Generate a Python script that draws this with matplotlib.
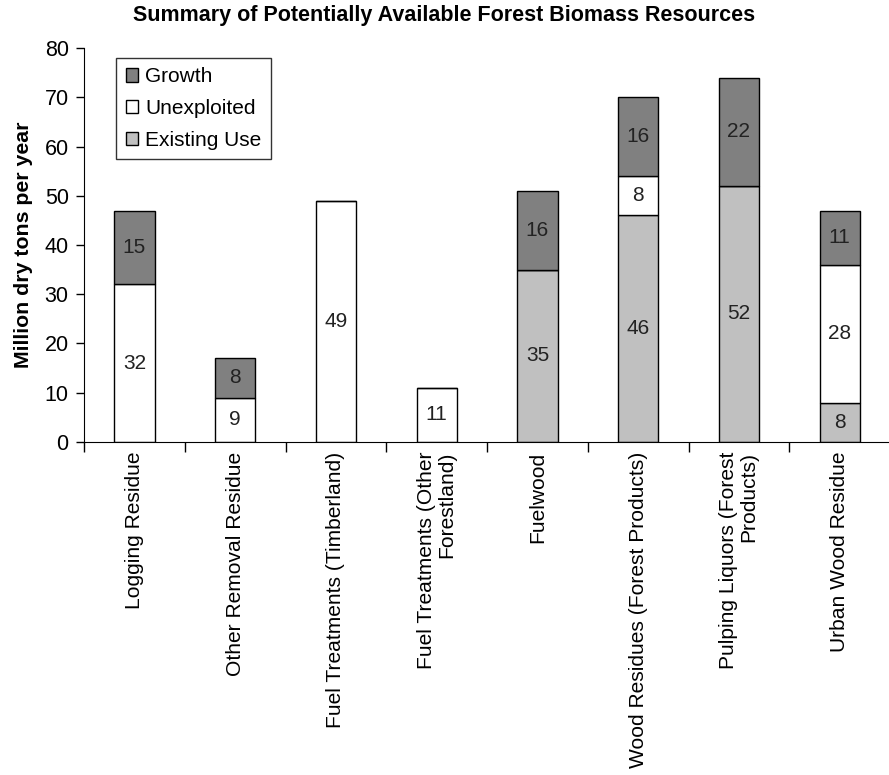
import numpy as np
import matplotlib
matplotlib.use("Agg")
import matplotlib.pyplot as plt

plt.rcParams['font.family'] = ['Liberation Sans', 'DejaVu Sans']

categories = ["Logging Residue", "Other Removal Residue", "Fuel Treatments (Timberland)",
              "Fuel Treatments (Other\nForestland)", "Fuelwood",
              "Wood Residues (Forest Products)", "Pulping Liquors (Forest\nProducts)",
              "Urban Wood Residue"]
existing_use = [0, 0, 0, 0, 35, 46, 52, 8]
unexploited = [32, 9, 49, 11, 0, 8, 0, 28]
growth = [15, 8, 0, 0, 16, 16, 22, 11]

fig = plt.figure(figsize=(8.89, 7.75), dpi=100)
ax = fig.add_axes([0.0945, 0.4297, 0.9067, 0.5083])

x = np.arange(len(categories))
w = 0.4
ex = np.array(existing_use)
un = np.array(unexploited)
gr = np.array(growth)

b1 = ax.bar(x, ex, w, color="#c0c0c0", edgecolor="black", linewidth=1, label="Existing Use")
b2 = ax.bar(x, un, w, bottom=ex, color="white", edgecolor="black", linewidth=1, label="Unexploited")
b3 = ax.bar(x, gr, w, bottom=ex + un, color="#808080", edgecolor="black", linewidth=1, label="Growth")

# value labels in middle of each segment
for vals, bots in [(ex, np.zeros_like(ex)), (un, ex), (gr, ex + un)]:
    for i in range(len(x)):
        if vals[i] > 0:
            ax.text(x[i], bots[i] + vals[i] / 2, str(vals[i]), ha="center", va="center",
                    fontsize=15, color="#222222")

ax.set_xlim(-0.5, len(categories) - 0.5)
ax.set_ylim(0, 80)
ax.set_yticks(range(0, 81, 10))
ax.tick_params(axis="y", labelsize=15.5, length=6, width=1, direction="out", pad=5)

ax.set_xticks(np.arange(-0.5, len(categories), 1.0))
ax.set_xticklabels([])
ax.tick_params(axis="x", which="major", length=7, width=1, direction="out")
ax.set_xticks(x, minor=True)
ax.set_xticklabels(categories, minor=True, rotation=90, fontsize=15.1,
                   ha="center", va="top", multialignment="right", linespacing=1.1)
ax.tick_params(axis="x", which="minor", length=0, pad=7)

for s in ["top", "right"]:
    ax.spines[s].set_visible(False)

ax.set_ylabel("Million dry tons per year", fontsize=15.3, fontweight="bold", labelpad=8)
fig.suptitle("Summary of Potentially Available Forest Biomass Resources",
             fontsize=15.5, fontweight="bold", y=0.993, x=0.5)

handles = [b3, b2, b1]
leg = ax.legend(handles, [h.get_label() for h in handles], loc="upper left",
                bbox_to_anchor=(0.04, 0.975), fontsize=15, frameon=True, fancybox=False,
                handlelength=0.6, handleheight=0.6, handletextpad=0.35, borderpad=0.45,
                labelspacing=0.62, edgecolor="black", borderaxespad=0)
leg.get_frame().set_linewidth(1)

fig.savefig("out.png", dpi=100)
